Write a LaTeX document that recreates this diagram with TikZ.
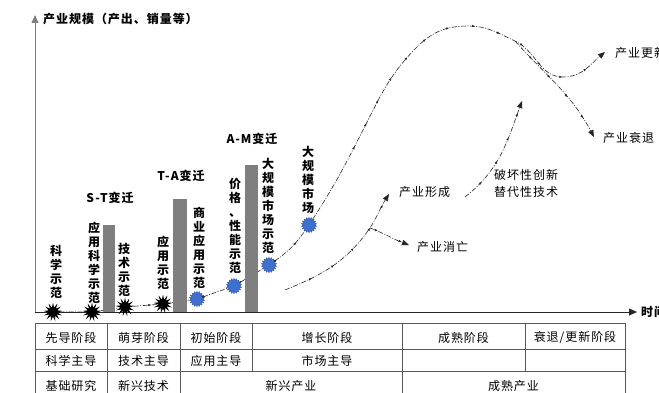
\documentclass[tikz,border=0pt]{standalone}
\usepackage{fontspec}
\setmainfont{Noto Sans CJK SC}
\usetikzlibrary{arrows.meta,shapes.geometric,decorations.markings}
\definecolor{barGray}{HTML}{7F7F7F}
\definecolor{blobBlue}{HTML}{3F6FCF}

\begin{document}
\begin{tikzpicture}[
  x=1pt, y=1pt,
  font=\fontsize{12}{14}\selectfont,
  lbl/.style={inner sep=0pt, font=\bfseries\fontsize{12}{14}\selectfont\addfontfeatures{LetterSpace=8}},
  vlbl/.style={inner sep=0pt, align=center, font=\bfseries\fontsize{12}{14}\selectfont},
  note/.style={inner sep=0pt, font=\fontsize{12}{17}\selectfont\addfontfeatures{LetterSpace=8}},
  cell/.style={inner sep=0pt, font=\fontsize{12}{14}\selectfont\addfontfeatures{LetterSpace=8}},
  burst/.style={star, star points=13, star point ratio=2.1, fill=black, minimum size=19pt, inner sep=0pt},
  blob/.style={star, star points=18, star point ratio=1.3, fill=blobBlue, draw=blobBlue!80!black,
               line width=0.3pt, minimum size=15.5pt, inner sep=0pt},
  flow/.style={draw=black!85, line width=0.6pt, dash pattern=on 5pt off 1.5pt on 1pt off 1.5pt,
               postaction={decorate},
               decoration={markings, mark=between positions 0.2 and 0.95 step 26pt with {\arrow{Latex[length=3pt,width=2.5pt]}}}},
  tip/.style={-{Triangle[length=7pt,width=5.5pt]}},
  bar/.style={fill=barGray},
  grid/.style={draw=black!65, line width=0.6pt}
]
\useasboundingbox (0,0) rectangle (659,392);

% axes
\coordinate (o) at (35,80);
\coordinate (ytop) at (35,377);
\coordinate (xend) at (637,80);
\draw[black!50, line width=0.8pt, -{Triangle[length=8pt,width=7pt]}] (35,79) -- (ytop);
\draw[black!85, line width=0.8pt, -{Triangle[length=8pt,width=7pt]}] (o) -- (xend);
\node[lbl, anchor=west] (ylab) at (43,373) {产业规模（产出、销量等）};
\node[lbl, anchor=west] (xlab) at (641,80) {时间};

% milestones
\node[burst] (s1) at (53,80) {};
\node[burst] (s2) at (92,80) {};
\node[burst] (s3) at (125,85) {};
\node[burst] (s4) at (163,88) {};
\node[blob] (b1) at (197,93) {};
\node[blob] (b2) at (234,106) {};
\node[blob] (b3) at (269,127) {};
\node[blob] (b4) at (309,167) {};
\draw[flow] (s1) -- (s2) -- (s3) -- (s4) -- (b1) -- (b2) -- (b3) to[bend right=10] (b4);

% bars
\fill[bar] (102.5,80) rectangle (115,167);
\fill[bar] (173,80) rectangle (187,193);
\fill[bar] (245,80) rectangle (257.5,227);
\node[lbl] (st) at (110,194) {S-T变迁};
\node[lbl] (ta) at (181,216) {T-A变迁};
\node[lbl] (am) at (252,253) {A-M变迁};

% vertical labels
\node[vlbl] (v1) at (56,120) {科\\学\\示\\范};
\node[vlbl] (v2) at (94,129.5) {应\\用\\科\\学\\示\\范};
\node[vlbl] (v3) at (124,122) {技\\术\\示\\范};
\node[vlbl] (v4) at (163,129) {应\\用\\示\\范};
\node[vlbl] (v5) at (199,144.5) {商\\业\\应\\用\\示\\范};
\node[vlbl] (v6) at (235,166.5) {价\\格\\、\\性\\能\\示\\范};
\node[vlbl] (v7) at (268,186) {大\\规\\模\\市\\场\\示\\范};
\node[vlbl] (v8) at (308,212) {大\\规\\模\\市\\场};

% main life cycle
\coordinate (peak) at (468,366);
\coordinate (split) at (515,351);
\coordinate (dip) at (563,315);
\coordinate (renend) at (605,340);
\coordinate (decend) at (594,255);
\draw[flow, tip] (b4) to[out=57,in=243] (363,262) to[out=63,in=225] (417,345)
  to[out=45,in=180] (peak) to[out=0,in=155] (split) to[out=-25,in=180] (dip) to[out=0,in=220] (renend);
\draw[flow, tip] (split) to[out=-48,in=118] (decend);
\node[note, anchor=west] (renew) at (615,339) {产业更新};
\node[note, anchor=west] (decl) at (603,254) {产业衰退};

% emerging industry
\coordinate (form0) at (285,102);
\coordinate (fork) at (370,164);
\coordinate (formend) at (389,198);
\coordinate (dieend) at (409,147);
\draw[flow, tip] (form0) to[out=22,in=235] (fork) to[out=58,in=238] (formend);
\draw[flow, tip] (fork) to[out=-20,in=160] (dieend);
\node[note, anchor=west] (form) at (399,200) {产业形成};
\node[note, anchor=west] (die) at (417,145) {产业消亡};

% disruptive innovation
\coordinate (dis0) at (465,195);
\coordinate (disend) at (522,291);
\draw[flow, tip] (dis0) to[out=38,in=250] (disend);
\node[note, anchor=west, align=left] (dis) at (494,208.5) {破坏性创新\\替代性技术};

% stage table
\draw[grid] (35,69) -- (625,69);
\draw[grid] (35,43) -- (625,43);
\draw[grid] (35,21) -- (625,21);
\foreach \cx in {35,107,180,402,625}
  \draw[grid] (\cx,69) -- (\cx,-5);
\draw[grid] (252,69) -- (252,21);
\draw[grid] (525,69) -- (525,21);

\node[cell] (c11) at (71,54.5) {先导阶段};
\node[cell] (c12) at (143.5,54.5) {萌芽阶段};
\node[cell] (c13) at (216,54.5) {初始阶段};
\node[cell] (c14) at (327,54.5) {增长阶段};
\node[cell] (c15) at (463.5,54.5) {成熟阶段};
\node[cell] (c16) at (575,54.5) {衰退/更新阶段};
\node[cell] (c21) at (71,31.5) {科学主导};
\node[cell] (c22) at (143.5,31.5) {技术主导};
\node[cell] (c23) at (216,31.5) {应用主导};
\node[cell] (c24) at (327,31.5) {市场主导};
\node[cell] (c31) at (71,6) {基础研究};
\node[cell] (c32) at (143.5,6) {新兴技术};
\node[cell] (c33) at (291,6) {新兴产业};
\node[cell] (c34) at (513.5,6) {成熟产业};
\end{tikzpicture}
\end{document}
